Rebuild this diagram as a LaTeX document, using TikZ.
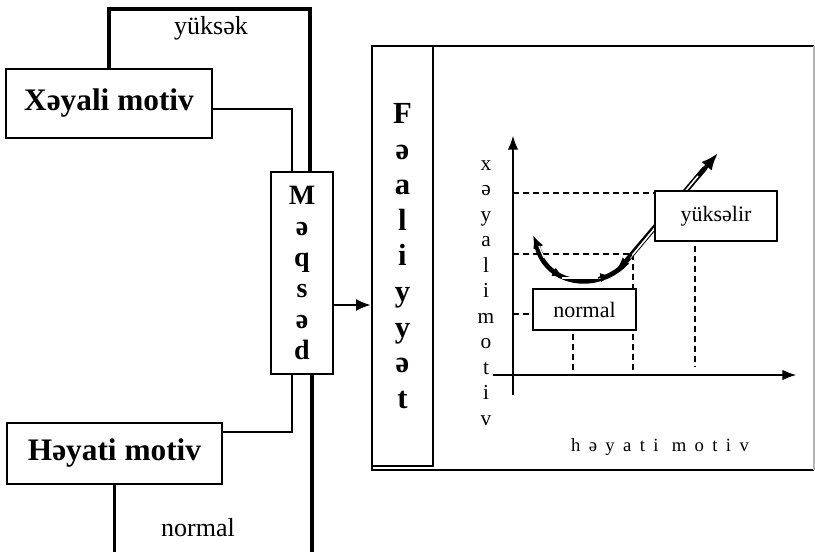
\documentclass[tikz,border=0pt]{standalone}
\usepackage{fontspec}
\setmainfont{Liberation Serif}
\newfontfamily\spaced[LetterSpace=45]{Liberation Serif}
\usetikzlibrary{arrows.meta,positioning}

\begin{document}
\begin{tikzpicture}[
    x=0.75pt, y=-0.75pt,
    box/.style={rectangle,draw,line width=1.5pt,fill=white,inner sep=0pt,align=center},
    bigbox/.style={box,font=\bfseries\fontsize{23.5}{26}\selectfont},
    small/.style={box,line width=1.2pt,font=\fontsize{16.5}{19}\selectfont},
    link/.style={line width=1.8pt},
    heavy/.style={line width=2.3pt},
    guide/.style={dashed,dash pattern=on 4.5pt off 3pt,line width=0.9pt},
    arrow/.style={-{Latex[length=11pt,width=9pt]},line width=1.4pt},
    axis/.style={-{Latex[length=11pt,width=8pt]},line width=2.2pt},
    lbl/.style={font=\fontsize{19.5}{22}\selectfont}
]
    \useasboundingbox (0,0) rectangle (815,552);

    % left part
    \node[bigbox,minimum width=154.5pt,minimum height=51.75pt] (xeyali) at (109,103.5) {Xəyali motiv};
    \node[bigbox,minimum width=161.25pt,minimum height=45.75pt] (heyati) at (114.5,453.5) {Həyati motiv};
    \node[box,font=\bfseries\fontsize{21}{23.25}\selectfont,minimum width=46.5pt,minimum height=151.5pt] (meqsed) at (302,273) {M\\ə\\q\\s\\ə\\d};

    \node[lbl] (high) at (211,28) {yüksək};
    \node[lbl] (norm) at (198,528) {normal};

    \coordinate (ytop) at (310,9);
    \coordinate (bottom) at (0,552);
    \draw[heavy] (xeyali.north) |- (ytop) -- (ytop |- meqsed.north);
    \draw[link] ([yshift=-4pt]xeyali.east) -| ([xshift=-7.5pt]meqsed.north);
    \draw[link] ([yshift=16pt]heyati.east) -| ([xshift=-7.5pt]meqsed.south);
    \draw[link] (heyati.south) -- (heyati.south |- bottom);
    \coordinate (mbot) at ([xshift=7.5pt]meqsed.south);
    \draw[heavy] (mbot) -- (mbot |- bottom);

    % right part
    \draw[line width=1.5pt] (814,46) -- (372,46) -- (372,470) -- (814,470);
    \draw[gray!60,line width=1pt] (814,46) -- (814,470);
    \node[box,line width=2pt,font=\bfseries\fontsize{23}{26.7}\selectfont,minimum width=45.75pt,minimum height=315pt] (feal) at (402.5,256) {F\\ə\\a\\l\\i\\y\\y\\ə\\t};

    \coordinate (mout) at ([yshift=-24pt]meqsed.east);
    \draw[arrow] (mout) -- (mout -| feal.west);

    % graph
    \coordinate (O) at (513,375);
    \coordinate (ytip) at (513,135);
    \coordinate (xtip) at (797,375);
    \draw[axis] (O |- 0,395) -- (ytip);
    \draw[axis] (493,375) -- (xtip);

    \draw[guide] (513,193) -- (655,193);
    \draw[guide] (513,254) -- (633,254) -- (633,375);
    \draw[guide] (513,314) -- (533,314);
    \draw[guide] (573,314) -- (573,375);
    \draw[guide] (695,216) -- (695,367);

    % curve
    \draw[line width=3.6pt] (537,247) .. controls (548,287) and (600,292) .. (627,262);
    \draw[white,line width=1.2pt] (562,278) -- (603,278);
    \draw[line width=3.8pt] (622,266) -- (705,168);
    \draw[white,line width=1.2pt] (630,258) -- (698,176);
    \draw[-{Latex[length=13pt,width=10pt]},line width=3pt] (700,174) -- (718,153);
    \draw[-{Latex[length=10pt,width=8pt]},line width=3pt] (542,256) -- (533,235);
    \draw[white,line width=1pt] (544,258) -- (539,246);
    \draw[-{Latex[length=8pt,width=7pt]},line width=1pt] (550,270) -- (563,277);
    \draw[-{Latex[length=8pt,width=7pt]},line width=1pt] (598,278) -- (611,276);
    \draw[-{Latex[length=9pt,width=7pt]},line width=1pt] (632,255) -- (617,269);

    \node[small,minimum width=77.25pt,minimum height=30.75pt] (normal) at (584.5,309.5) {normal};
    \node[small,minimum width=91.5pt,minimum height=37.5pt] (rise) at (716,216) {yüksəlir};

    \node[font=\fontsize{16}{19.1}\selectfont,align=center] (ylab) at (486,293) {x\\ə\\y\\a\\l\\i\\m\\o\\t\\i\\v};
    \node[font=\spaced\fontsize{14}{16}\selectfont] (xlab) at (660,447) {həyati motiv};
\end{tikzpicture}
\end{document}
